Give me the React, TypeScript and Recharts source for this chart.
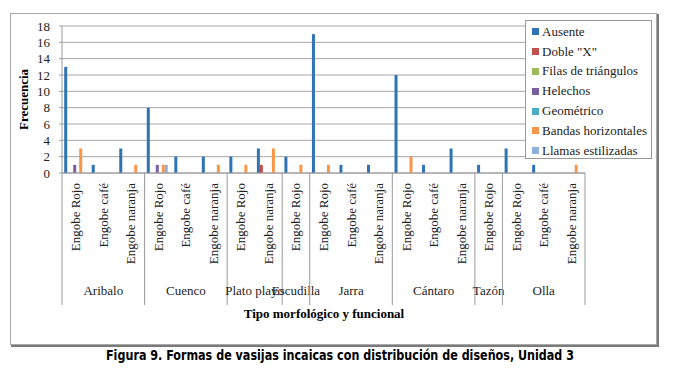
import { Bar, BarChart, CartesianGrid, Legend, XAxis, YAxis } from 'recharts';

const subtipos = [
    'Engobe Rojo', 'Engobe café', 'Engobe naranja',
    'Engobe Rojo', 'Engobe café', 'Engobe naranja',
    'Engobe Rojo', 'Engobe naranja',
    'Engobe Rojo',
    'Engobe Rojo', 'Engobe café', 'Engobe naranja',
    'Engobe Rojo', 'Engobe café', 'Engobe naranja',
    'Engobe Rojo',
    'Engobe Rojo', 'Engobe café', 'Engobe naranja',
];
const formas = [
    'Aribalo', 'Aribalo', 'Aribalo',
    'Cuenco', 'Cuenco', 'Cuenco',
    'Plato playo', 'Plato playo',
    'Escudilla',
    'Jarra', 'Jarra', 'Jarra',
    'Cántaro', 'Cántaro', 'Cántaro',
    'Tazón',
    'Olla', 'Olla', 'Olla',
];

const ausente = [13, 1, 3, 8, 2, 2, 2, 3, 2, 17, 1, 1, 12, 1, 3, 1, 3, 1, 0];
const dobleX = [0, 0, 0, 0, 0, 0, 0, 1, 0, 0, 0, 0, 0, 0, 0, 0, 0, 0, 0];
const filasTriangulos = [0, 0, 0, 0, 0, 0, 0, 0, 0, 0, 0, 0, 0, 0, 0, 0, 0, 0, 0];
const helechos = [1, 0, 0, 1, 0, 0, 0, 0, 0, 0, 0, 0, 0, 0, 0, 0, 0, 0, 0];
const geometrico = [0, 0, 0, 0, 0, 0, 0, 0, 0, 0, 0, 0, 0, 0, 0, 0, 0, 0, 0];
const bandas = [3, 0, 1, 1, 0, 1, 1, 3, 1, 1, 0, 0, 2, 0, 0, 0, 0, 0, 1];
const llamas = [0, 0, 0, 1, 0, 0, 0, 0, 0, 0, 0, 0, 0, 0, 0, 0, 0, 0, 0];

const yTicks = [0, 2, 4, 6, 8, 10, 12, 14, 16, 18];

const SERIES = [
    { key: 'ausente', name: 'Ausente', color: '#2F73B3', values: ausente },
    { key: 'dobleX', name: 'Doble "X"', color: '#C0504D', values: dobleX },
    { key: 'filas', name: 'Filas de triángulos', color: '#9BBB59', values: filasTriangulos },
    { key: 'helechos', name: 'Helechos', color: '#7A5FA0', values: helechos },
    { key: 'geometrico', name: 'Geométrico', color: '#4BACC6', values: geometrico },
    { key: 'bandas', name: 'Bandas horizontales', color: '#F79646', values: bandas },
    { key: 'llamas', name: 'Llamas estilizadas', color: '#8EB0DA', values: llamas },
];

const data = subtipos.map((sub, i) => {
    const row: Record<string, number | string> = { id: i, sub, forma: formas[i] };
    SERIES.forEach((s) => (row[s.key] = s.values[i]));
    return row;
});

const SERIF = '"Liberation Serif", "Times New Roman", serif';
const LINE = '#9A9A9A';

function CategoryTick(props: any) {
    const { x, y, index, payload } = props;
    const half = payload && typeof payload.offset === 'number' && payload.offset > 0 ? payload.offset : 523 / 19 / 2;
    const i = index;
    const first = i === 0 || formas[i - 1] !== formas[i];
    const last = i === formas.length - 1;
    let n = 1;
    while (i + n < formas.length && formas[i + n] === formas[i]) n++;
    const left = x - half;
    return (
        <g>
            <text
                x={x}
                y={y + 10}
                transform={`rotate(-90, ${x}, ${y + 10})`}
                textAnchor="end"
                dominantBaseline="central"
                fontFamily={SERIF}
                fontSize={13}
                fill="#222"
            >
                {subtipos[i]}
            </text>
            {first && (
                <>
                    <line x1={left} x2={left} y1={y} y2={y + 132} stroke={LINE} />
                    <text x={left + n * half} y={y + 122} textAnchor="middle" fontFamily={SERIF} fontSize={13} fill="#222">
                        {formas[i]}
                    </text>
                </>
            )}
            {last && <line x1={x + half} x2={x + half} y1={y} y2={y + 132} stroke={LINE} />}
        </g>
    );
}

function LegendBox() {
    return (
        <div
            style={{
                border: '1px solid #999',
                background: '#fff',
                width: 127,
                height: 139,
                boxSizing: 'border-box',
                paddingTop: 1,
                fontFamily: SERIF,
                fontSize: 13,
                color: '#222',
            }}
        >
            {SERIES.map((s) => (
                <div key={s.key} style={{ display: 'flex', alignItems: 'center', height: 19.8, whiteSpace: 'nowrap' }}>
                    <span style={{ display: 'inline-block', width: 7, height: 7, background: s.color, marginLeft: 6, marginRight: 3 }} />
                    <span>{s.name}</span>
                </div>
            ))}
        </div>
    );
}

export default function App() {
    return (
        <div style={{ position: 'absolute', left: 0, top: 0, width: 675, height: 372, background: '#fff' }}>
            <svg width={675} height={372} style={{ position: 'absolute', left: 0, top: 0 }}>
                <rect x={10.5} y={13.5} width={646} height={331} fill="none" stroke="#A8A8A8" />
                <line x1={658} x2={658} y1={14} y2={346} stroke="#7A7A7A" strokeWidth={2} />
                <line x1={11} x2={659} y1={346} y2={346} stroke="#7A7A7A" strokeWidth={2} />
                <text
                    x={23.5}
                    y={99.5}
                    transform="rotate(-90, 23.5, 99.5)"
                    textAnchor="middle"
                    dominantBaseline="central"
                    fontFamily={SERIF}
                    fontWeight="bold"
                    fontSize={13}
                >
                    Frecuencia
                </text>
                <text x={324} y={318} textAnchor="middle" fontFamily={SERIF} fontWeight="bold" fontSize={13}>
                    Tipo morfológico y funcional
                </text>
                <text
                    x={340}
                    y={360}
                    textAnchor="middle"
                    fontFamily='"Liberation Sans Narrow", "DejaVu Sans Condensed", "Arial Narrow", "Liberation Sans", sans-serif'
                    fontWeight="bold"
                    fontSize={13.5}
                    textLength={468}
                    lengthAdjust="spacingAndGlyphs"
                >
                    Figura 9. Formas de vasijas incaicas con distribución de diseños, Unidad 3
                </text>
            </svg>
            <div style={{ position: 'absolute', left: 0, top: 0 }}>
                <BarChart
                    width={675}
                    height={372}
                    data={data}
                    margin={{ top: 26, right: 90, bottom: 0, left: 0 }}
                    barCategoryGap="8%"
                    barGap={0}
                >
                    <CartesianGrid vertical={false} stroke="#A9A4AE" />
                    <XAxis
                        dataKey="id"
                        type="category"
                        height={199}
                        interval={0}
                        tickSize={0}
                        tickMargin={0}
                        tickLine={false}
                        axisLine={{ stroke: LINE }}
                        tick={CategoryTick}
                    />
                    <YAxis
                        width={62}
                        domain={[0, 18]}
                        ticks={yTicks}
                        interval={0}
                        tickSize={3}
                        tickMargin={9}
                        axisLine={{ stroke: LINE }}
                        tickLine={{ stroke: LINE }}
                        tick={{ fontFamily: SERIF, fontSize: 13, fill: '#222' }}
                    />
                    <Legend
                        layout="vertical"
                        align="center"
                        verticalAlign="middle"
                        content={() => <LegendBox />}
                        wrapperStyle={{ left: 525, top: 20, width: 127, height: 139 }}
                    />
                    {SERIES.map((s) => (
                        <Bar key={s.key} dataKey={s.key} name={s.name} fill={s.color} isAnimationActive={false} />
                    ))}
                </BarChart>
            </div>
        </div>
    );
}
